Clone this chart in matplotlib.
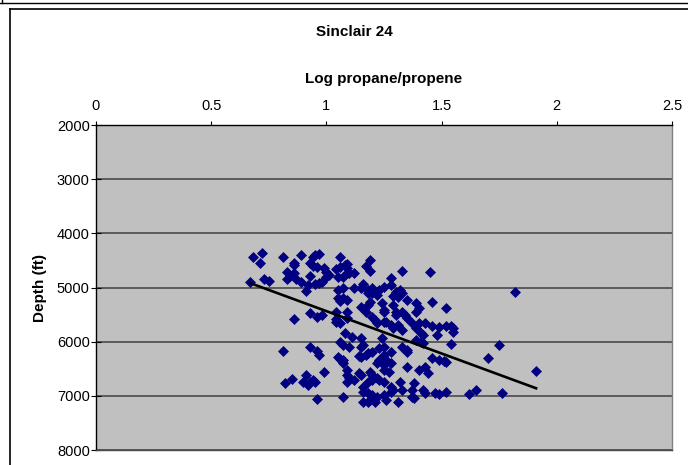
import numpy as np
import matplotlib.pyplot as plt
from matplotlib.lines import Line2D

###############################################################################
# Data (log propane/propene vs depth in ft)
log_ratio = [
    0.68, 0.72, 0.71, 0.67, 0.73, 0.75, 0.81, 0.89, 0.86, 0.86, 0.94, 0.95, 0.97,
    0.93, 0.94, 0.83, 0.84, 0.86, 0.83, 0.87, 0.89, 0.93, 0.96, 0.99, 1.00, 1.01,
    1.00, 0.98, 0.97, 0.95, 0.92, 0.91, 1.06, 1.09, 1.04, 1.06, 1.07, 1.05, 1.05,
    1.07, 1.05, 1.06, 1.09, 0.93, 0.96, 0.98, 1.04, 1.04, 1.06, 1.09, 1.09, 0.86,
    # second block
    1.08, 1.09, 1.10, 1.12, 1.09, 1.19, 1.17, 1.19, 1.33, 1.45, 1.28, 1.28, 1.16,
    1.15, 1.12, 1.18, 1.20, 1.20, 1.18, 1.23, 1.25, 1.22, 1.30, 1.32, 1.33, 1.31,
    1.29, 1.35, 1.39, 1.40, 1.39, 1.46, 1.52, 1.07, 1.19, 1.18, 1.15, 1.17, 1.24,
    1.25, 1.25, 1.29, 1.30, 1.30, 1.33, 1.34, 1.35, 1.20, 1.21, 1.22, 1.25, 1.26,
    1.28, 1.29, 1.31, 1.37, 1.40, 1.43, 1.46, 1.49, 1.52,
    1.82, 1.54, 1.55,
    # lower block
    1.33, 1.39, 1.41, 1.42, 1.48, 1.39, 1.41, 1.42, 1.08, 1.11, 1.15, 1.16, 1.15,
    1.10, 1.24, 1.25, 1.23, 1.20, 1.18, 1.17, 1.15, 1.14, 1.33, 1.35, 1.35, 1.28,
    1.25, 1.23, 1.26, 1.28, 1.25, 1.22, 1.25, 1.27, 1.07, 1.07, 1.35, 1.40, 1.43,
    1.44, 1.46, 1.49, 1.52, 1.09, 1.09, 1.10, 1.12, 1.14, 1.15, 1.19, 1.20, 1.20,
    1.22, 1.23, 1.25, 1.18, 1.16, 1.28, 1.29, 1.28, 1.32, 1.33, 1.37, 1.38, 1.42,
    1.43, 1.47, 1.49, 1.52, 1.16, 1.18, 1.20, 1.20, 1.22, 1.21, 1.18, 1.16, 1.19,
    1.25, 1.26, 1.31, 1.37, 1.38, 1.07,
    1.55, 1.54, 1.75, 1.51, 1.70, 1.91, 1.62, 1.65, 1.76,
    1.04, 1.06, 1.07, 0.81, 0.93, 0.96, 0.97, 1.05, 1.06, 0.99, 0.91, 0.90, 0.93,
    0.94, 0.95, 0.92, 0.85, 0.82, 0.96, 1.09,
]
depth_ft = [
    4437, 4363, 4548, 4898, 4843, 4880, 4437, 4400, 4548, 4584, 4437, 4400, 4381,
    4548, 4603, 4714, 4788, 4732, 4843, 4843, 4898, 4788, 4621, 4640, 4714, 4769,
    4806, 4898, 4917, 4935, 4954, 5064, 4437, 4566, 4658, 4621, 4806, 4806, 5046,
    5009, 5194, 5249, 5231, 5471, 5544, 5507, 5452, 5581, 5655, 5452, 5563, 5581,
    # second block
    4584, 4640, 4732, 4732, 4732, 4492, 4603, 4695, 4695, 4714, 4825, 4954, 4935,
    5009, 5009, 5046, 5009, 5101, 5101, 5046, 4991, 5138, 5083, 5046, 5101, 5175,
    5157, 5231, 5286, 5378, 5452, 5267, 5378, 5194, 5267, 5323, 5360, 5452, 5286,
    5415, 5452, 5323, 5452, 5507, 5452, 5507, 5563, 5544, 5600, 5655, 5637, 5637,
    5692, 5747, 5692, 5655, 5655, 5655, 5711, 5729, 5711,
    5083, 5711, 5747,
    # lower block
    5784, 5747, 5840, 5877, 5877, 5969, 6006, 6024, 5840, 5914, 5932, 6061, 6098,
    6098, 5932, 6098, 6117, 6191, 6209, 6246, 6283, 6265, 6098, 6154, 6191, 6191,
    6246, 6338, 6338, 6394, 6430, 6394, 6523, 6560, 6338, 6394, 6467, 6523, 6467,
    6578, 6301, 6338, 6375, 6523, 6615, 6670, 6707, 6578, 6615, 6560, 6615, 6707,
    6670, 6707, 6744, 6744, 6837, 6837, 6892, 6929, 6744, 6892, 6892, 6763, 6892,
    6947, 6947, 6966, 6929, 6929, 6947, 6984, 7040, 7021, 7114, 7114, 7114, 7077,
    6984, 7077, 7114, 7021, 7040, 7021,
    5821, 6043, 6061, 6357, 6301, 6541, 6966, 6892, 6947,
    5637, 6006, 6061, 6172, 6098, 6172, 6246, 6283, 6320, 6560, 6615, 6744, 6744,
    6707, 6744, 6800, 6689, 6763, 7058, 6744,
]

# Excel linear trendline, endpoints
trend_x = [0.67, 1.91]
trend_depth = [4920, 6860]

x_ticks = [0, 0.5, 1, 1.5, 2, 2.5]
x_ticklabels = ['0', '0.5', '1', '1.5', '2', '2.5']
y_ticks = [2000, 3000, 4000, 5000, 6000, 7000, 8000]

###############################################################################
# Plotting
plt.rcParams['font.family'] = ['Liberation Sans', 'DejaVu Sans']
plt.rcParams['font.size'] = 10.5

W, H = 688, 465
fig = plt.figure(figsize=(W / 100, H / 100), dpi=100)

# plot area in pixel terms: x 96..672, y 125..450
ax = fig.add_axes([96 / W, 1 - 450 / H, 576 / W, 325 / H])
ax.set_facecolor('#c0c0c0')

ax.plot(log_ratio, depth_ft, 'D', color='#000080', markersize=5.0,
        markeredgewidth=0.5, linestyle='none', zorder=3)
ax.plot(trend_x, trend_depth, color='black', linewidth=1.9, zorder=4)

ax.set_xlim(0, 2.5)
ax.set_ylim(8000, 2000)

ax.xaxis.tick_top()
ax.xaxis.set_label_position('top')
ax.set_xticks(x_ticks)
ax.set_xticklabels(x_ticklabels)
ax.set_yticks(y_ticks)
ax.tick_params(axis='y', direction='inout', length=7, width=0.8,
               color='black', labelsize=10.5, pad=1)
ax.tick_params(axis='x', direction='out', length=3, width=0.8,
               color='black', labelsize=10.5, pad=6)

ax.yaxis.grid(True, color='#4a4a4a', linewidth=1.2)
ax.set_axisbelow(True)

ax.spines['top'].set_color('black')
ax.spines['left'].set_color('black')
ax.spines['right'].set_color('#808080')
ax.spines['bottom'].set_color('#4a4a4a')
for s in ax.spines.values():
    s.set_linewidth(1.0)

ax.set_xlabel('Log propane/propene', fontweight='bold', fontsize=11, labelpad=11)
ax.set_ylabel('Depth (ft)', fontweight='bold', fontsize=11, labelpad=7)

fig.text(354 / W, 1 - 32 / H, 'Sinclair 24', ha='center', va='center',
         fontweight='bold', fontsize=11)

# chart border lines (frame of the Excel chart object)
def px_line(xs, ys, **kw):
    fig.add_artist(Line2D([x / W for x in xs], [1 - y / H for y in ys],
                          transform=fig.transFigure, color='black', **kw))

px_line([0, W], [3, 3], linewidth=1.0)
px_line([2, 2], [0, 3], linewidth=1.0)
px_line([10, W], [9, 9], linewidth=1.2)
px_line([10, 10], [9, H], linewidth=1.2)

fig.savefig('out.png', dpi=100)
